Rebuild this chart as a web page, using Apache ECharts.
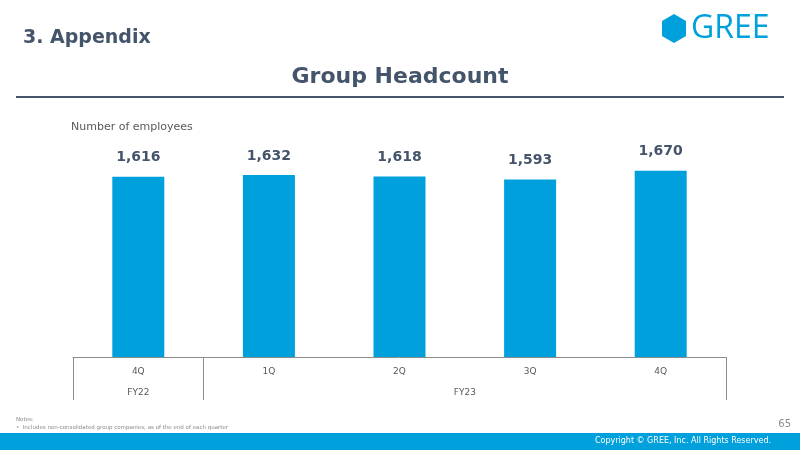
<!DOCTYPE html>
<html>
<head>
<meta charset="utf-8">
<script src="https://cdn.jsdelivr.net/npm/echarts@6/dist/echarts.min.js"></script>
<style>
  html, body { margin: 0; padding: 0; background: #fff; }
  #chart { width: 800px; height: 450px; }
</style>
</head>
<body>
<div id="chart"></div>
<script>
const quarters = ["4Q", "1Q", "2Q", "3Q", "4Q"];
const headcount = [1616, 1632, 1618, 1593, 1670];
const fiscalYears = ["FY22", "FY23"];
// fiscal year label centres and divider positions, in category units
const fyCenters = [0.5, 3];
const fyDividers = [0, 1, 5];

const navy = "#44546a";
const blue = "#00a0dc";

const chart = echarts.init(document.getElementById("chart"));

chart.setOption({
  animation: false,
  textStyle: { fontFamily: "DejaVu Sans" },
  grid: { left: 73, right: 74, top: 134, bottom: 93 },
  xAxis: [
    {
      type: "category",
      data: quarters,
      axisLine: { show: true, lineStyle: { color: "#8c8c8c", width: 1 } },
      axisTick: { show: false },
      axisLabel: { color: "#595959", fontSize: 9, margin: 10 }
    },
    {
      type: "value",
      position: "bottom",
      min: 0,
      max: 5,
      axisLine: { show: false },
      splitLine: { show: false },
      axisTick: {
        show: true,
        customValues: fyDividers,
        length: 43,
        lineStyle: { color: "#8c8c8c", width: 1 }
      },
      axisLabel: {
        customValues: fyCenters,
        color: "#595959",
        fontSize: 9,
        margin: 31,
        formatter: (v) => fiscalYears[fyCenters.indexOf(v)] || ""
      }
    }
  ],
  yAxis: {
    type: "value",
    min: 0,
    max: 2000,
    show: false
  },
  series: [
    {
      type: "bar",
      data: headcount,
      barWidth: 52,
      itemStyle: { color: blue },
      label: {
        show: true,
        position: "top",
        distance: 12,
        color: navy,
        fontWeight: "bold",
        fontSize: 14,
        formatter: (p) => p.value.toLocaleString("en-US")
      }
    }
  ],
  graphic: [
    { type: "text", left: 23, top: 29, style: { text: "3. Appendix", fill: navy, font: "bold 19px 'DejaVu Sans'" } },
    { type: "text", left: "center", top: 66, style: { text: "Group Headcount", fill: navy, font: "bold 22px 'DejaVu Sans'" } },
    { type: "line", shape: { x1: 16, y1: 97, x2: 784, y2: 97 }, style: { stroke: navy, lineWidth: 2 } },
    { type: "polygon", shape: { points: [[674, 14], [686, 21], [686, 36], [674, 43], [662, 36], [662, 21]] }, style: { fill: blue } },
    { type: "text", left: 691, top: 13, style: { text: "GREE", fill: blue, font: "32px 'Open Sans'" } },
    { type: "text", left: 71, top: 122, style: { text: "Number of employees", fill: "#595959", font: "11px 'DejaVu Sans'" } },
    { type: "text", left: 16, top: 417, style: { text: "Notes:", fill: "#8c8c8c", font: "5.5px 'DejaVu Sans'" } },
    { type: "text", left: 16, top: 425, style: { text: "\u2022  Includes non-consolidated group companies; as of the end of each quarter", fill: "#8c8c8c", font: "5.5px 'DejaVu Sans'" } },
    { type: "text", right: 9, top: 419, style: { text: "65", fill: "#8c8c8c", font: "10px 'DejaVu Sans'" } },
    { type: "rect", shape: { x: 0, y: 433, width: 800, height: 17 }, style: { fill: blue } },
    { type: "text", right: 29, top: 437, style: { text: "Copyright \u00a9 GREE, Inc. All Rights Reserved.", fill: "#ffffff", font: "8px 'DejaVu Sans'" } }
  ]
});
</script>
</body>
</html>
